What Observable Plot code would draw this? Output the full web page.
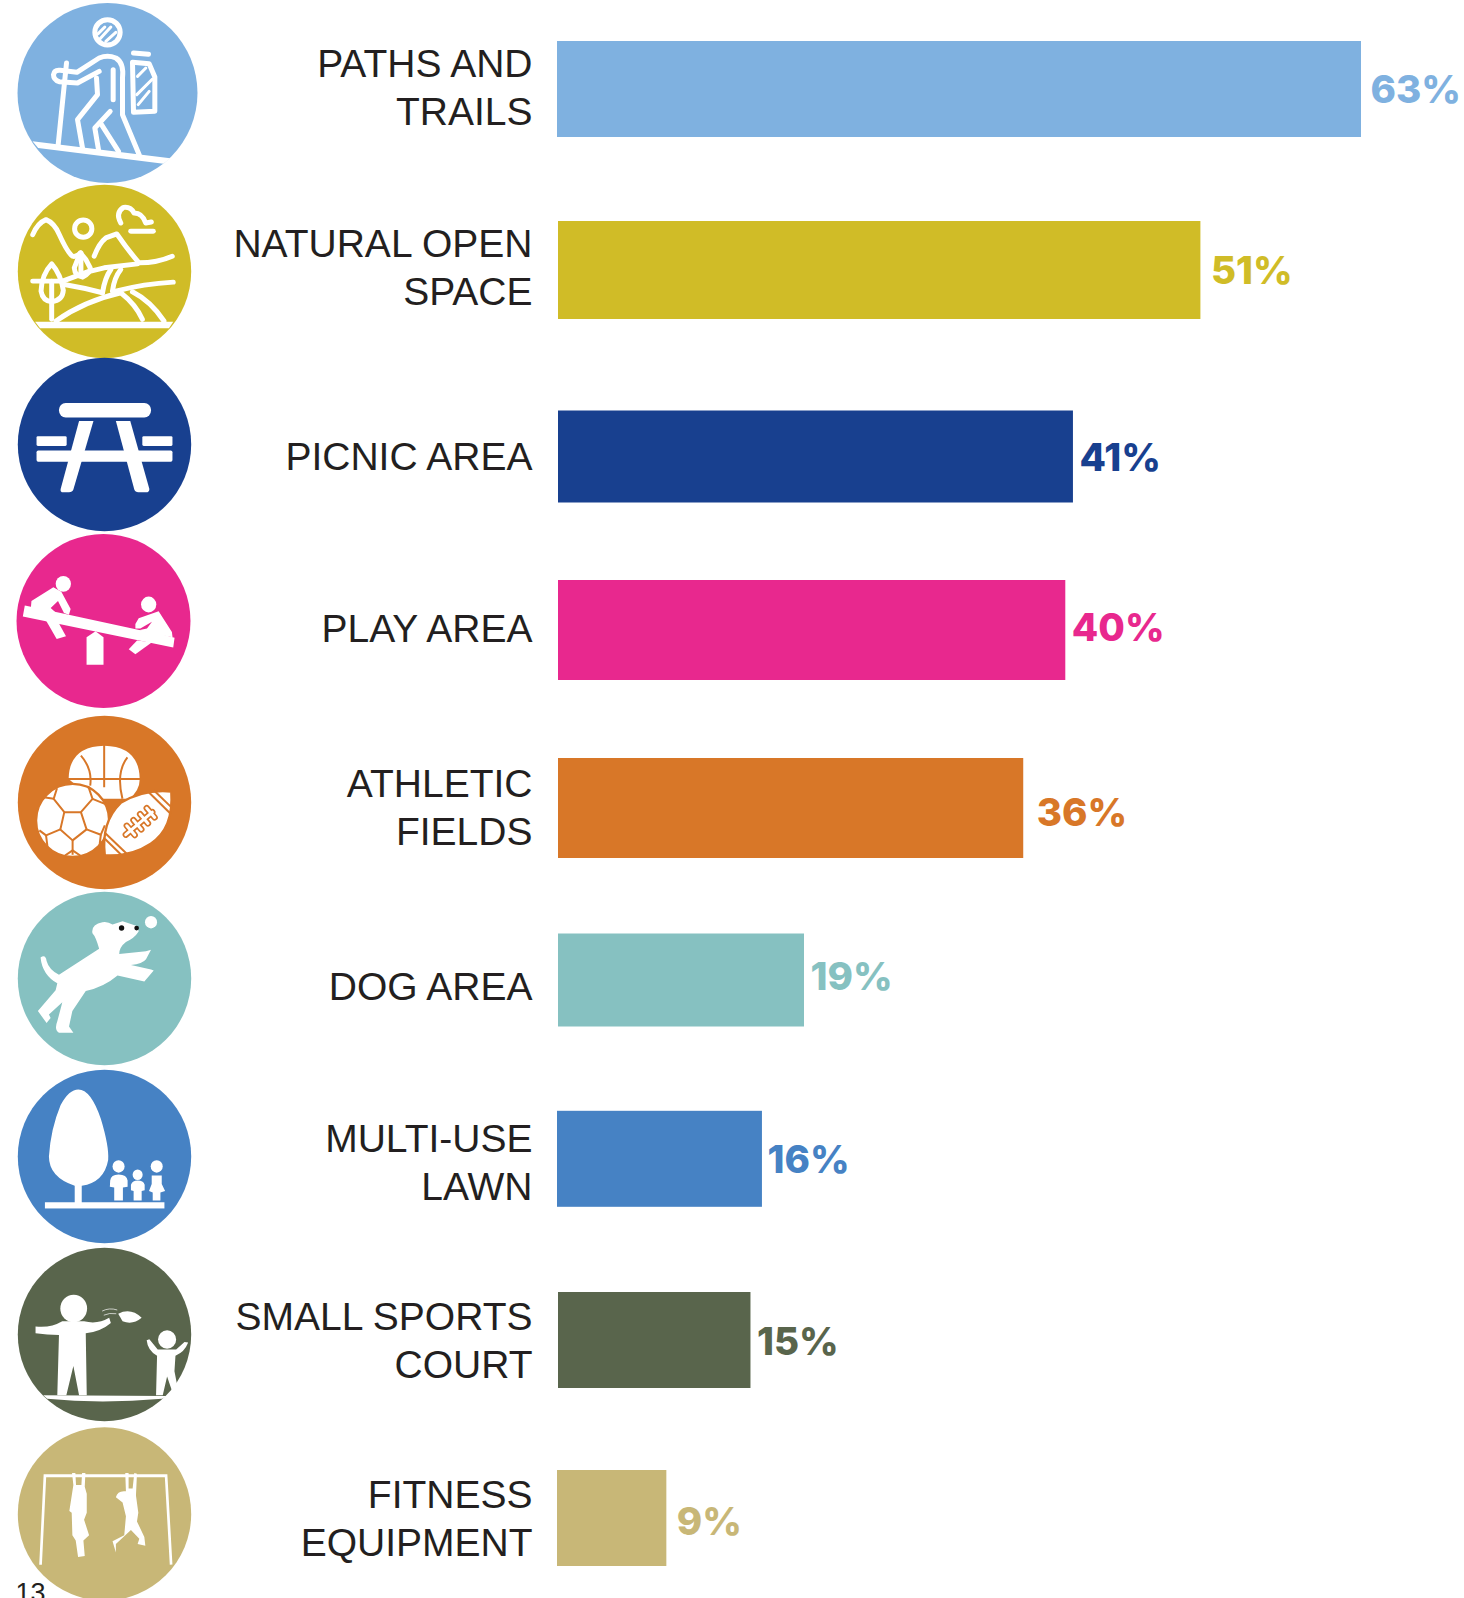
<!DOCTYPE html>
<html>
<head>
<meta charset="utf-8">
<script src="https://cdn.jsdelivr.net/npm/d3@7"></script>
<script src="https://cdn.jsdelivr.net/npm/@observablehq/plot@0.6"></script>
<style>html,body{margin:0;padding:0;background:#fff;overflow:hidden}svg{display:block}</style>
</head>
<body>
<div id="chart"></div>
<script>
const categories = ["PATHS AND\nTRAILS","NATURAL OPEN\nSPACE","PICNIC AREA","PLAY AREA","ATHLETIC\nFIELDS","DOG AREA","MULTI-USE\nLAWN","SMALL SPORTS\nCOURT","FITNESS\nEQUIPMENT"];
const percentLabels = ["63%","51%","41%","40%","36%","19%","16%","15%","9%"];
// Bar lengths as drawn in the picture, in percent
const barValues = [63,50.4,40.4,39.8,36.5,19.3,16,15.1,8.5];
const colors = ["#7fb1e0","#d0bc27","#18408f","#e8288e","#d87728","#86c1c1","#4682c4","#59654c","#c8b777"];

// Layout of the irregular rows, as offsets in pixels
const step = 178;
const uniform = i => step * (i + 0.5);
const barCenter = [89,270,456.5,630,808,980,1158.8,1340,1518];
const barHeight = [96,98,92,100,100,93,96,96,96];
const barLeftInset = [-1,0,0,0,0,0,-1,0,-1];
const labelCenter = [85,265,454,626,805.5,984,1160,1338,1516];
const valueCenter = [90,271,458,628,813,977,1160,1342,1522];
const valueGap = [9,10,6,6,13,6,5,6,10];
const iconBox = [
  {cx:107,cy:92.5,r:90},{cx:104,cy:271,r:86.7},{cx:104,cy:444,r:86.7},
  {cx:103,cy:620.5,r:87},{cx:104,cy:802,r:86.7},{cx:104,cy:978,r:86.7},
  {cx:104,cy:1156,r:86.7},{cx:104,cy:1334,r:86.7},{cx:104,cy:1513.5,r:86.7}
];

// Pictograms
const L = 'fill="none" stroke="#fff" stroke-linecap="round" stroke-linejoin="round"';
const O = 'fill="none" stroke="#d87728" stroke-linecap="butt" stroke-linejoin="round"';
const icons = [
 {vb:"0 0 540 540", g:`
  <g ${L} stroke-width="15">
   <circle cx="270" cy="88" r="38"/>
   <path d="M245,205 L180,240 L125,236 Q108,230 108,215 Q110,200 128,202 L178,208 L245,165 Q270,155 295,165 Q320,180 315,225 L315,335 L365,455"/>
   <path d="M237,225 L240,275 L180,350 L195,435"/><path d="M287,200 L287,290"/>
   <path d="M278,325 L232,375 L243,440"/><path d="M252,365 L303,445"/>
   <path d="M147,180 L122,425"/><path d="M348,150 L393,154"/>
   <path d="M345,178 L395,182 L412,222 L412,325 L348,328 Z"/>
  </g>
  <g ${L} stroke-width="9">
   <path d="M242,92 L262,72"/><path d="M247,108 L280,72"/><path d="M265,115 L295,88"/>
   <path d="M360,220 L385,195"/><path d="M358,275 L405,228"/><path d="M362,305 L395,265"/>
  </g>
  <path fill="#fff" d="M45,415 L458,466 L438,482 L62,435 Z"/>`},
 {vb:"0 0 522 522", g:`
  <g ${L} stroke-width="15">
   <path d="M45,150 Q60,115 85,105 Q110,115 125,150 Q150,205 165,215 Q175,218 190,205"/>
   <circle cx="197" cy="132" r="26"/>
   <path d="M310,115 Q293,85 318,68 Q340,65 350,85 Q375,85 385,115 L402,112"/>
   <path d="M340,140 L408,140"/>
   <path d="M230,215 Q245,175 265,160 L298,148 Q330,195 365,235 Q420,235 465,215"/>
   <path d="M45,290 L135,290 L210,262 L260,250 L360,238"/>
   <path d="M188,205 L170,250 Q172,275 195,278 Q220,265 218,250 L205,225 Z"/><path d="M190,225 L190,270"/>
   <path d="M102,238 Q72,270 70,320 Q75,350 102,352 Q135,348 137,318 Q130,270 102,238 Z"/>
   <path d="M102,290 L102,405"/>
   <path d="M140,300 Q200,310 255,325"/><path d="M255,325 Q262,280 280,255"/><path d="M285,320 Q290,280 310,255"/>
   <path d="M295,320 Q380,298 468,293"/>
   <path d="M115,410 Q200,350 310,325 Q355,360 375,405"/><path d="M345,322 Q400,350 440,410"/>
  </g>
  <path fill="#fff" d="M52,412 L468,412 L455,432 L67,432 Z"/>`},
 {vb:"52 1040 518 500", g:`
  <g fill="#fff">
   <rect x="175" y="1170" width="275" height="42" rx="20"/>
   <path d="M235,1222 L278,1222 L218,1420 Q215,1428 205,1428 L188,1428 Q178,1428 180,1418 Z"/>
   <path d="M345,1222 L388,1222 L445,1418 Q445,1428 435,1428 L412,1428 Q403,1428 400,1420 Z"/>
   <rect x="108" y="1266" width="90" height="28" rx="4"/>
   <rect x="424" y="1266" width="90" height="28" rx="4"/>
   <rect x="108" y="1307" width="406" height="33" rx="5"/>
  </g>`},
 {vb:"47 10 524 506", g:`
  <g fill="#fff">
   <path d="M72,218 L66,250 L519,340 L523,312 L470,298 L420,290 L180,240 Z"/>
   <path d="M258,310 L285,293 L309,310 L309,390 L258,390 Z"/>
   <circle cx="188" cy="155" r="23"/><circle cx="445" cy="215" r="23"/>
   <path d="M92,205 L158,165 L182,178 L210,228 L205,245 L190,240 L172,205 L150,225 L165,238 L90,228 Z"/>
   <path d="M135,260 L168,315 L196,307 L172,265 Z"/>
   <path d="M405,272 L415,255 L475,235 L515,295 L517,310 L450,298 L415,290 L440,285 L455,265 L420,285 L405,285 Z"/>
   <path d="M385,345 L405,360 L455,325 L410,320 Z"/>
  </g>`},
 {vb:"0 0 522 522", g:`
  <path fill="#fff" d="M153,190 Q155,92 260,90 Q365,92 367,190 Q367,225 335,250 L225,250 Z"/>
  <g ${O} stroke-width="6">
   <path d="M260,85 L260,215"/><path d="M150,190 L370,190"/>
   <path d="M190,120 Q225,160 218,210"/><path d="M330,125 Q295,170 315,250"/>
  </g>
  <circle cx="165" cy="315" r="110" fill="#fff" stroke="#d87728" stroke-width="7"/>
  <g ${O} stroke-width="6">
   <path d="M140,290 L190,290 L207,342 L165,375 L128,342 Z"/>
   <path d="M140,290 L108,250 L118,218"/><path d="M190,290 L225,250 L212,212"/>
   <path d="M207,342 L250,358 L262,330"/><path d="M128,342 L85,360 L65,345"/>
   <path d="M165,375 L165,418"/><path d="M85,360 L90,400"/><path d="M108,250 L78,245"/>
   <path d="M225,250 L262,265"/><path d="M250,358 L245,400"/><path d="M140,422 L165,405 L190,422"/>
  </g>
  <path fill="#fff" stroke="#d87728" stroke-width="7" d="M462,228 Q470,340 400,385 Q340,425 262,420 Q250,320 310,262 Q380,220 462,228 Z"/>
  <g ${O} stroke-width="6">
   <path d="M392,228 L460,295"/><path d="M410,225 L462,275"/>
   <path d="M262,352 L335,422"/><path d="M262,370 L315,422"/>
  </g>
  <g fill="none" stroke="#d87728" stroke-width="19" stroke-linecap="round">
   <path d="M325,358 L405,290"/><path d="M328,331 L352,359"/><path d="M348,314 L372,342"/><path d="M368,296 L392,324"/><path d="M388,278 L412,306"/>
  </g>
  <g fill="none" stroke="#fff" stroke-width="9" stroke-linecap="round">
   <path d="M325,358 L405,290"/><path d="M328,331 L352,359"/><path d="M348,314 L372,342"/><path d="M368,296 L392,324"/><path d="M388,278 L412,306"/>
  </g>`},
 {vb:"52 1050 518 502", g:`
  <path fill="#fff" d="M120,1240 Q135,1230 138,1250 Q145,1275 175,1290 L295,1215 Q285,1180 275,1170 Q270,1145 305,1138 Q320,1135 335,1145 L365,1135 L410,1150 L413,1165 Q400,1185 375,1195 Q355,1210 355,1230 L435,1222 L450,1218 L435,1245 Q425,1258 390,1262 L450,1275 L458,1278 L430,1310 L350,1292 Q310,1325 255,1337 L215,1395 L205,1440 L218,1458 L175,1458 Q160,1450 170,1425 L185,1370 L145,1405 L150,1415 L138,1430 L112,1395 L165,1335 L170,1315 Q125,1290 120,1240 Z"/>
  <circle cx="450" cy="1138" r="18" fill="#fff"/>
  <circle cx="362" cy="1155" r="8" fill="#111"/><circle cx="407" cy="1155" r="7" fill="#111"/>`},
 {vb:"52 28 518 504", g:`
  <g fill="#fff">
   <path d="M233,85 Q270,85 300,170 Q325,250 322,290 Q310,355 243,365 L243,415 L222,415 L222,365 Q145,340 145,280 Q150,200 180,130 Q205,85 233,85 Z"/>
   <rect x="133" y="413" width="357" height="18"/>
   <circle cx="353" cy="309" r="18"/><circle cx="410" cy="333" r="15"/><circle cx="467" cy="309" r="18"/>
   <path d="M328,350 Q330,332 353,332 Q378,332 380,350 L380,368 L366,370 L366,408 L340,408 L340,370 L327,368 Z"/>
   <path d="M390,362 Q395,350 410,350 Q427,350 431,362 L431,378 L422,380 L422,408 L398,408 L398,380 L390,378 Z"/>
   <path d="M452,335 L482,335 L482,360 L492,380 L478,385 L478,408 L455,408 L455,385 L444,380 L452,360 Z"/>
  </g>`},
 {vb:"52 547 518 503", g:`
  <g fill="#fff">
   <circle cx="219" cy="723" r="40"/>
   <path d="M105,775 Q150,780 185,760 L250,760 Q290,770 325,750 L330,765 Q300,790 255,795 L258,975 L235,975 L218,890 L197,975 L170,975 L175,800 Q140,800 105,795 Z"/>
   <path d="M352,738 Q390,720 422,750 Q395,772 365,760 Z"/>
   <circle cx="498" cy="813" r="27"/>
   <path d="M437,815 L445,812 L470,842 L525,842 L550,820 L561,822 Q550,850 523,860 L520,905 L528,945 L512,960 L498,920 L485,975 L465,975 L468,860 Q440,845 437,815 Z"/>
   <path d="M128,975 L497,977 L483,985 Q300,1000 140,985 Z"/>
  </g>
  <g ${L} stroke-width="2"><path d="M305,730 Q325,720 348,727"/><path d="M310,742 Q325,735 345,738"/></g>`},
 {vb:"52 1073 518 501", g:`
  <path d="M120,1470 L133,1213 L495,1213 L510,1470" fill="none" stroke="#fff" stroke-width="8"/>
  <g fill="#fff">
   <path d="M214,1205 L224,1205 L226,1240 L242,1240 L244,1205 L254,1205 L252,1245 L258,1265 L258,1320 L250,1340 L265,1385 L248,1400 L252,1445 L232,1448 L225,1400 L215,1385 L213,1320 L206,1315 L218,1240 Z"/>
   <path d="M373,1205 L383,1205 L383,1250 L395,1250 L400,1205 L408,1207 L405,1270 L412,1320 L408,1345 L430,1390 L433,1415 L410,1410 L415,1395 L390,1370 L345,1410 L345,1435 L335,1402 L370,1385 L375,1330 L365,1290 L345,1275 Q350,1255 375,1258 Z"/>
  </g>`}
];
const iconSrc = icons.map(d => "data:image/svg+xml;charset=utf-8," + encodeURIComponent(
  `<svg xmlns="http://www.w3.org/2000/svg" viewBox="${d.vb}" preserveAspectRatio="none">${d.g}</svg>`));

const rows = categories.map((category, i) => ({category, label: percentLabels[i], value: barValues[i], src: iconSrc[i]}));

const marks = rows.flatMap((row, i) => {
  const inset = (step - barHeight[i]) / 2;
  const box = iconBox[i];
  const iconDy = box.cy - uniform(i);
  return [
    Plot.dot([row], {frameAnchor: "left", y: "category", dx: box.cx, dy: iconDy, r: box.r, fill: colors[i]}),
    Plot.image([row], {frameAnchor: "left", y: "category", dx: box.cx, dy: iconDy, width: 2 * box.r, height: 2 * box.r, src: d => d.src, preserveAspectRatio: "none"}),
    Plot.barX([row], {x: "value", y: "category", fill: colors[i], insetTop: inset, insetBottom: inset, insetLeft: barLeftInset[i], dy: barCenter[i] - uniform(i)}),
    Plot.text([row], {x: 0, y: "category", text: "category", textAnchor: "end", dx: -26, dy: labelCenter[i] - uniform(i), lineHeight: 1.23, fontSize: 39, fontFamily: "Liberation Sans", fill: "#231f20"}),
    Plot.text([row], {x: "value", y: "category", text: "label", textAnchor: "start", dx: valueGap[i], dy: valueCenter[i] - uniform(i), fontSize: 38.5, fontWeight: 800, fontFamily: "Inter", fill: colors[i]})
  ];
});

const chart = Plot.plot({
  width: 1464,
  height: 1598,
  marginTop: 0, marginRight: 0, marginBottom: 0, marginLeft: 0,
  style: {background: "#fff", overflow: "hidden"},
  x: {axis: null, domain: [0, 63], range: [558, 1361]},
  y: {axis: null, domain: categories, range: [0, step * categories.length], padding: 0, round: false},
  marks: [
    ...marks,
    Plot.text(["13"], {frameAnchor: "bottom-left", text: d => d, dx: 15, dy: 3, lineAnchor: "bottom", fontSize: 27, fontFamily: "Liberation Sans", fill: "#231f20"})
  ]
});
document.getElementById("chart").appendChild(chart);
</script>
</body>
</html>
